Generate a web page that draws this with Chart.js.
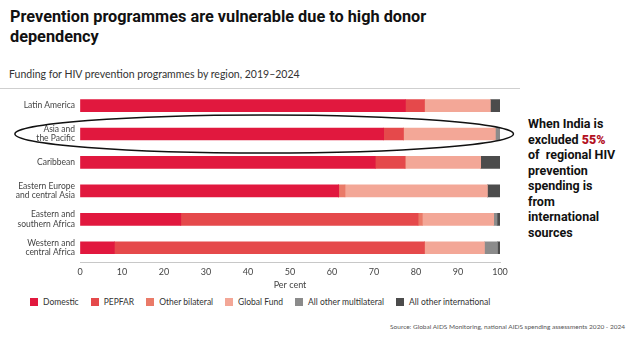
<!DOCTYPE html>
<html>
<head>
<meta charset="utf-8">
<script src="https://cdn.jsdelivr.net/npm/chart.js@4.4.1/dist/chart.umd.min.js"></script>
<style>
  html, body { margin: 0; padding: 0; background: #fff; }
  #wrap { position: relative; width: 640px; height: 349px; overflow: hidden; font-family: "Lato", sans-serif; }
  #title { position: absolute; left: 10px; top: 7px; font: bold 16.3px "Roboto", sans-serif; line-height: 20px; color: #111; width: 470px; }
  #sub { position: absolute; left: 9px; top: 68px; font-size: 10.5px; color: #333; }
  #rule { position: absolute; left: 0; top: 88px; width: 520px; height: 1px; background: #cfcfcf; }
  #chartBox { position: absolute; left: 0; top: 77px; width: 522px; height: 215px; }
  #legend { position: absolute; left: 30px; top: 297px; display: flex; font-size: 8.5px; color: #333; }
  #legend span.item { display: flex; align-items: center; margin-right: 12px; }
  #legend span.box { width: 8px; height: 8px; margin-right: 5px; display: inline-block; }
  #note { position: absolute; left: 528px; top: 116px; font: bold 12.5px "Roboto", sans-serif; line-height: 15.5px; color: #111; }
  #note b { color: #b3121f; }
  #source { position: absolute; right: 15px; top: 323px; font-size: 6.5px; color: #555; }
</style>
</head>
<body>
<div id="wrap">
  <div id="title">Prevention programmes are vulnerable due to high donor dependency</div>
  <div id="sub">Funding for HIV prevention programmes by region, 2019–2024</div>
  <div id="rule"></div>
  <div id="chartBox"><canvas id="fundChart"></canvas></div>
  <div id="legend"></div>
  <div id="note">When India is<br>excluded <b>55%</b><br>of&nbsp; regional HIV<br>prevention<br>spending is<br>from<br>international<br>sources</div>
  <div id="source">Source: Global AIDS Monitoring, national AIDS spending assessments 2020 - 2024</div>
</div>
<script>
// regions, top to bottom
const regions = [
    'Latin America',
    ['Asia and', 'the Pacific'],
    'Caribbean',
    ['Eastern Europe', 'and central Asia'],
    ['Eastern and', 'southern Africa'],
    ['Western and', 'central Africa']
];

// share of prevention funding (per cent)
const domestic       = [77.5, 72.3, 70.3, 61.6, 24.0,  8.2];
const pepfar         = [ 4.5,  4.7,  7.1,  0.0, 56.5, 73.8];
const otherBilateral = [ 0.0,  0.0,  0.0,  1.5,  1.0,  0.0];
const globalFund     = [15.7, 21.9, 18.0, 33.9, 17.0, 14.3];
const otherMulti     = [ 0.0,  1.1,  0.0,  0.0,  0.8,  3.1];
const otherIntl      = [ 2.3,  0.0,  4.6,  3.0,  0.7,  0.6];

const xTicks = [0, 10, 20, 30, 40, 50, 60, 70, 80, 90, 100];

const seriesNames  = ['Domestic', 'PEPFAR', 'Other bilateral', 'Global Fund', 'All other multilateral', 'All other international'];
const seriesData   = [domestic, pepfar, otherBilateral, globalFund, otherMulti, otherIntl];
const seriesColors = ['#e1183e', '#e5494b', '#ea7a68', '#f3a797', '#8b8b8b', '#4c4c4c'];

const datasets = seriesNames.map(function(name, i) {
    return {
        label: name,
        data: seriesData[i],
        backgroundColor: seriesColors[i],
        borderWidth: 0,
        barThickness: 12
    };
});

// html legend
const legendEl = document.getElementById('legend');
seriesNames.forEach(function(name, i) {
    const item = document.createElement('span');
    item.className = 'item';
    item.innerHTML = '<span class="box" style="background:' + seriesColors[i] + '"></span>' + name;
    legendEl.appendChild(item);
});

// oval round the Asia and the Pacific row
const ovalPlugin = {
    id: 'oval',
    afterDatasetsDraw(chart) {
        const ctx = chart.ctx;
        const y = chart.scales.y.getPixelForValue(1);
        const x0 = chart.scales.x.getPixelForValue(-15.5);
        const x1 = chart.scales.x.getPixelForValue(103.2);
        ctx.save();
        ctx.beginPath();
        ctx.ellipse((x0 + x1) / 2, y, (x1 - x0) / 2, 19, 0, 0, Math.PI * 2);
        ctx.lineWidth = 1.5;
        ctx.strokeStyle = '#111';
        ctx.stroke();
        ctx.restore();
    }
};

const ctx = document.getElementById('fundChart').getContext('2d');
new Chart(ctx, {
    type: 'bar',
    data: { labels: regions, datasets: datasets },
    plugins: [ovalPlugin],
    options: {
        indexAxis: 'y',
        responsive: true,
        maintainAspectRatio: false,
        animation: false,
        layout: { padding: { top: 3, right: 22, left: 0, bottom: 0 } },
        plugins: {
            legend: { display: false },
            tooltip: { enabled: false }
        },
        scales: {
            x: {
                stacked: true,
                min: 0,
                max: 100,
                afterBuildTicks: function(scale) {
                    scale.ticks = xTicks.map(function(v) { return { value: v }; });
                },
                afterFit: function(scale) { scale.height = 30; },
                grid: { drawOnChartArea: false, drawTicks: false },
                border: { display: true, color: '#c8c8c8' },
                ticks: { padding: 5, color: '#444', font: { family: 'Lato', size: 9 } },
                title: {
                    display: true,
                    text: 'Per cent',
                    color: '#444',
                    padding: { top: 2, bottom: 2 },
                    font: { family: 'Lato', size: 9 }
                }
            },
            y: {
                stacked: true,
                afterFit: function(scale) { scale.width = 80; },
                grid: { display: false, tickLength: 0 },
                border: { display: false },
                ticks: { padding: 5, color: '#444', font: { family: 'Lato', size: 8.5, lineHeight: 1.1 } }
            }
        }
    }
});
</script>
</body>
</html>
